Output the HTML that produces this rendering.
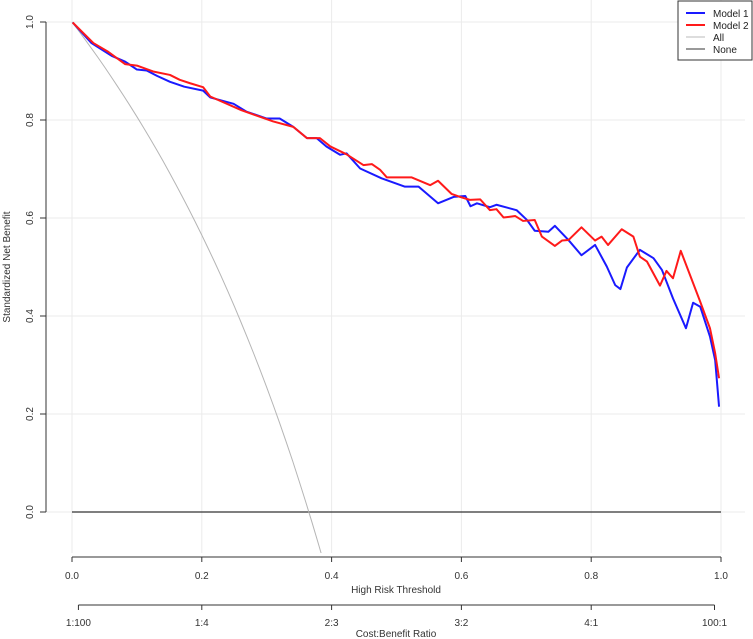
<!DOCTYPE html>
<html><head><meta charset="utf-8"><style>
html,body{margin:0;padding:0;background:#fff;}
svg{display:block;font-family:"Liberation Sans",sans-serif;}
</style></head><body>
<svg id="chart" width="753" height="639" viewBox="0 0 753 639" xmlns="http://www.w3.org/2000/svg">
<defs><clipPath id="plotclip"><rect x="46" y="0" width="700" height="553"/></clipPath></defs>
<g id="grid"></g>
<g id="axes"></g>
<g id="series" clip-path="url(#plotclip)"></g>
<text x="0" y="0" transform="translate(10,267) rotate(-90)" text-anchor="middle" font-size="10" fill="#333">Standardized Net Benefit</text>
<text x="396" y="593" text-anchor="middle" font-size="10" fill="#333">High Risk Threshold</text>
<text x="396" y="637" text-anchor="middle" font-size="10" fill="#333">Cost:Benefit Ratio</text>
<g>
<rect x="678" y="1" width="74" height="59" fill="#fff" stroke="#333" stroke-width="1"/>
<line x1="686" y1="13" x2="705" y2="13" stroke="#1a1aff" stroke-width="2"/>
<text x="713" y="17" font-size="10" fill="#222">Model 1</text>
<line x1="686" y1="25" x2="705" y2="25" stroke="#ff1a1a" stroke-width="2"/>
<text x="713" y="29" font-size="10" fill="#222">Model 2</text>
<line x1="686" y1="37" x2="705" y2="37" stroke="#bbb" stroke-width="1"/>
<text x="713" y="41" font-size="10" fill="#222">All</text>
<line x1="686" y1="49" x2="705" y2="49" stroke="#333" stroke-width="1"/>
<text x="713" y="53" font-size="10" fill="#222">None</text>
</g>
</svg>
<script>
const xTicks = [0, 0.2, 0.4, 0.6, 0.8, 1.0];
const xTickLabels = ["0.0","0.2","0.4","0.6","0.8","1.0"];
const yTicks = [0, 0.2, 0.4, 0.6, 0.8, 1.0];
const yTickLabels = ["0.0","0.2","0.4","0.6","0.8","1.0"];
const cbTicks = [0.0099, 0.2, 0.4, 0.6, 0.8, 0.990];
const cbTickLabels = ["1:100","1:4","2:3","3:2","4:1","100:1"];
const prevalence = 0.365;
const model1X = [0.001,0.030,0.061,0.082,0.100,0.115,0.131,0.151,0.173,0.202,0.213,0.249,0.269,0.300,0.320,0.341,0.362,0.377,0.392,0.413,0.423,0.444,0.477,0.513,0.534,0.564,0.588,0.606,0.614,0.624,0.644,0.654,0.685,0.701,0.713,0.734,0.744,0.765,0.785,0.806,0.824,0.837,0.845,0.855,0.875,0.896,0.909,0.926,0.946,0.957,0.968,0.983,0.991,0.997];
const model1Y = [0.999,0.957,0.931,0.919,0.903,0.901,0.890,0.878,0.868,0.860,0.846,0.833,0.817,0.803,0.803,0.786,0.763,0.763,0.746,0.729,0.732,0.701,0.681,0.664,0.664,0.630,0.643,0.645,0.624,0.630,0.622,0.627,0.616,0.596,0.574,0.572,0.584,0.555,0.524,0.545,0.501,0.463,0.455,0.499,0.535,0.518,0.494,0.436,0.375,0.427,0.419,0.358,0.310,0.215];
const model2X = [0.001,0.033,0.056,0.082,0.100,0.125,0.151,0.166,0.182,0.202,0.213,0.261,0.310,0.341,0.362,0.382,0.398,0.423,0.449,0.462,0.475,0.485,0.523,0.552,0.564,0.585,0.598,0.613,0.629,0.644,0.654,0.665,0.683,0.695,0.713,0.724,0.744,0.755,0.765,0.785,0.806,0.816,0.826,0.847,0.865,0.875,0.886,0.906,0.916,0.926,0.938,0.968,0.983,0.991,0.997];
const model2Y = [0.999,0.957,0.939,0.914,0.911,0.899,0.892,0.882,0.875,0.867,0.848,0.820,0.797,0.786,0.763,0.763,0.746,0.730,0.708,0.710,0.698,0.683,0.683,0.667,0.676,0.649,0.643,0.637,0.638,0.616,0.618,0.601,0.604,0.594,0.596,0.562,0.543,0.554,0.555,0.581,0.554,0.562,0.545,0.577,0.562,0.521,0.511,0.462,0.492,0.477,0.533,0.429,0.375,0.324,0.273];

const NS = "http://www.w3.org/2000/svg";
const xS = v => 72 + v * 649;
const yS = v => 512 - v * 490;
function mk(tag, attrs, parent, text) {
  const e = document.createElementNS(NS, tag);
  for (const k in attrs) e.setAttribute(k, attrs[k]);
  if (text !== undefined) e.textContent = text;
  parent.appendChild(e);
  return e;
}
const grid = document.getElementById('grid');
const axes = document.getElementById('axes');
const series = document.getElementById('series');

xTicks.forEach(t => {
  const l = mk('line', {x1: xS(t), x2: xS(t), y1: 0, y2: 553, stroke: '#ebebeb', 'stroke-width': 1}, grid);
  
  
});
yTicks.forEach(t => {
  const l = mk('line', {x1: 46, x2: 745, y1: yS(t), y2: yS(t), stroke: '#ebebeb', 'stroke-width': 1}, grid);
  
  
});

// y axis
const ya = mk('line', {x1: 46, x2: 46, y1: yS(0), y2: yS(1), stroke: '#333', 'stroke-width': 1}, axes);


yTicks.forEach((t, i) => {
  mk('line', {x1: 40, x2: 46, y1: yS(t), y2: yS(t), stroke: '#333'}, axes);
  const tx = mk('text', {x: 0, y: 0, transform: `translate(33,${yS(t)}) rotate(-90)`, 'text-anchor': 'middle', 'font-size': 10, fill: '#333'}, axes, yTickLabels[i]);
  
  
});
// x axis
const xa = mk('line', {x1: xS(0), x2: xS(1), y1: 557, y2: 557, stroke: '#333', 'stroke-width': 1}, axes);


xTicks.forEach((t, i) => {
  mk('line', {x1: xS(t), x2: xS(t), y1: 557, y2: 562, stroke: '#333'}, axes);
  const tx = mk('text', {x: xS(t), y: 579, 'text-anchor': 'middle', 'font-size': 10, fill: '#333'}, axes, xTickLabels[i]);
  
  
});
// cost benefit axis
const ca = mk('line', {x1: xS(cbTicks[0]), x2: xS(cbTicks[cbTicks.length-1]), y1: 605, y2: 605, stroke: '#333', 'stroke-width': 1}, axes);


cbTicks.forEach((t, i) => {
  mk('line', {x1: xS(t), x2: xS(t), y1: 605, y2: 610, stroke: '#333'}, axes);
  const tx = mk('text', {x: xS(t), y: 626, 'text-anchor': 'middle', 'font-size': 10, fill: '#333'}, axes, cbTickLabels[i]);
  
  
});

// None line
const none = mk('line', {x1: xS(0), x2: xS(1), y1: yS(0), y2: yS(0), stroke: '#333', 'stroke-width': 1.2}, series);



// All curve (treat-all standardized net benefit)
let allPts = [];
for (let i = 0; i <= 99; i++) {
  const pt = i / 100;
  const nb = 1 - ((1 - prevalence) / prevalence) * (pt / (1 - pt));
  if (nb < -0.2) break;
  allPts.push(xS(pt).toFixed(1) + ',' + yS(nb).toFixed(1));
}
const allLine = mk('polyline', {points: allPts.join(' '), fill: 'none', stroke: '#b5b5b5', 'stroke-width': 1}, series);



const p1 = mk('polyline', {points: model1X.map((x, i) => xS(x) + ',' + yS(model1Y[i])).join(' '), fill: 'none', stroke: '#1a1aff', 'stroke-width': 2, 'stroke-linejoin': 'round'}, series);


const p2 = mk('polyline', {points: model2X.map((x, i) => xS(x) + ',' + yS(model2Y[i])).join(' '), fill: 'none', stroke: '#ff1a1a', 'stroke-width': 2, 'stroke-linejoin': 'round'}, series);


</script>
</body></html>
